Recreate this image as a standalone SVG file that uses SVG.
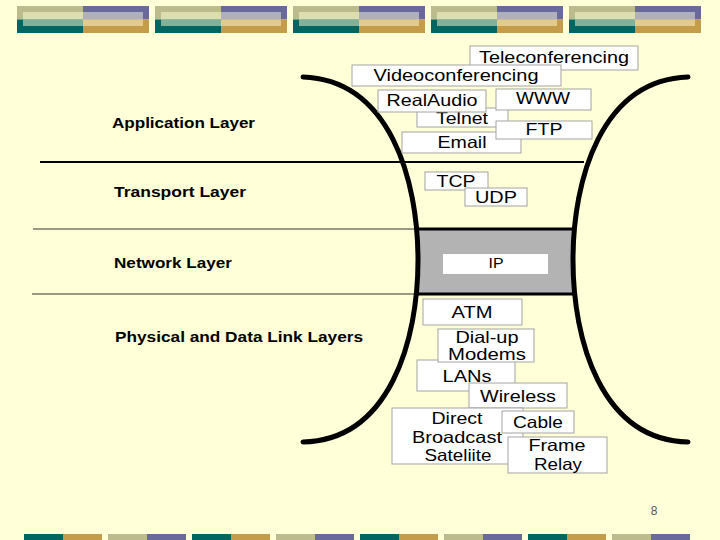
<svg xmlns="http://www.w3.org/2000/svg" width="720" height="540" viewBox="0 0 720 540">
<style>
.box{fill:#fff;stroke:#a3a3a3;stroke-width:1}
.t{font-family:"Liberation Sans",Arial,sans-serif;font-size:16.5px;fill:#000;text-anchor:middle}
.lbl{font-family:"Liberation Sans",Arial,sans-serif;font-size:14px;font-weight:bold;fill:#000}
.curve{fill:none;stroke:#000;stroke-width:5;stroke-linecap:round}
.kh{fill:#bcbb8e}.pu{fill:#6a699c}.te{fill:#006662}.go{fill:#c49c4a}
.khl{fill:#dcddb1}.pul{fill:#b0afbd}.tel{fill:#82b199}.gol{fill:#e1cb8d}
</style>
<defs>
<g id="blk">
<rect class="kh" x="0" y="6" width="66" height="13.5"/>
<rect class="pu" x="66" y="6" width="66" height="13.5"/>
<rect class="te" x="0" y="19.5" width="66" height="13.5"/>
<rect class="go" x="66" y="19.5" width="66" height="13.5"/>
<rect class="khl" x="6" y="12" width="60" height="7.5"/>
<rect class="pul" x="66" y="12" width="60" height="7.5"/>
<rect class="tel" x="6" y="19.5" width="60" height="6.5"/>
<rect class="gol" x="66" y="19.5" width="60" height="6.5"/>
</g>
<g id="pairA"><rect class="te" x="0" y="534" width="39" height="6"/><rect class="go" x="39" y="534" width="39" height="6"/></g>
<g id="pairB"><rect class="kh" x="0" y="534" width="39" height="6"/><rect class="pu" x="39" y="534" width="39" height="6"/></g>
</defs>
<rect width="720" height="540" fill="#ffffd8"/>
<g id="banner-top">
<use href="#blk" x="17"/><use href="#blk" x="155"/><use href="#blk" x="293"/><use href="#blk" x="431"/><use href="#blk" x="569"/>
</g>
<g id="banner-bottom">
<use href="#pairA" x="24"/><use href="#pairB" x="108"/><use href="#pairA" x="192"/><use href="#pairB" x="276"/>
<use href="#pairA" x="360"/><use href="#pairB" x="444"/><use href="#pairA" x="528"/><use href="#pairB" x="612"/>
</g>
<text x="654" y="515" font-family="'Liberation Sans',Arial,sans-serif" font-size="12" fill="#555" text-anchor="middle">8</text>

<g id="labels">
<text class="lbl" x="112" y="128" textLength="143" lengthAdjust="spacingAndGlyphs">Application Layer</text>
<text class="lbl" x="114" y="197" textLength="132" lengthAdjust="spacingAndGlyphs">Transport Layer</text>
<text class="lbl" x="114" y="268" textLength="118" lengthAdjust="spacingAndGlyphs">Network Layer</text>
<text class="lbl" x="115" y="342" textLength="248" lengthAdjust="spacingAndGlyphs">Physical and Data Link Layers</text>
</g>

<g id="ip-layer">
<rect x="417" y="229" width="157" height="65" fill="#b3b3b3"/>
<line x1="416" y1="229" x2="575" y2="229" stroke="#000" stroke-width="3"/>
<line x1="416" y1="294" x2="575" y2="294" stroke="#000" stroke-width="3"/>
</g>

<g id="connectors">
<line x1="40" y1="162" x2="584" y2="162" stroke="#000" stroke-width="2"/>
<line x1="33" y1="229" x2="416" y2="229" stroke="#333" stroke-width="1"/>
<line x1="32" y1="294" x2="416" y2="294" stroke="#333" stroke-width="1"/>
<path class="curve" d="M303,77 C390,80 418,180 418,260 C418,340 390,440 303,442"/>
<path class="curve" d="M688,77 C601,80 573,180 573,260 C573,340 601,440 688,442"/>
</g>

<g id="n-teleconferencing"><rect class="box" x="470" y="46" width="168" height="24"/><text class="t" x="554" y="63" textLength="150" lengthAdjust="spacingAndGlyphs">Teleconferencing</text></g>
<g id="n-videoconferencing"><rect class="box" x="352" y="65" width="209" height="21"/><text class="t" x="456" y="81" textLength="165" lengthAdjust="spacingAndGlyphs">Videoconferencing</text></g>
<g id="n-telnet"><rect class="box" x="417" y="108" width="91" height="19"/><text class="t" x="462" y="123.5" textLength="52" lengthAdjust="spacingAndGlyphs">Telnet</text></g>
<g id="n-realaudio"><rect class="box" x="378" y="90" width="108" height="22"/><text class="t" x="432" y="106" textLength="91" lengthAdjust="spacingAndGlyphs">RealAudio</text></g>
<g id="n-www"><rect class="box" x="496" y="89" width="95" height="21"/><text class="t" x="543" y="104" textLength="54" lengthAdjust="spacingAndGlyphs">WWW</text></g>
<g id="n-email"><rect class="box" x="402" y="132" width="119" height="21"/><text class="t" x="462" y="148" textLength="49" lengthAdjust="spacingAndGlyphs">Email</text></g>
<g id="n-ftp"><rect class="box" x="496" y="121" width="96" height="18"/><text class="t" x="544" y="134.5" textLength="37" lengthAdjust="spacingAndGlyphs">FTP</text></g>

<g id="n-tcp"><rect class="box" x="425" y="172" width="63" height="18"/><text class="t" x="456" y="187" textLength="39" lengthAdjust="spacingAndGlyphs">TCP</text></g>
<g id="n-udp"><rect class="box" x="465" y="188" width="62" height="18"/><text class="t" x="496" y="203" textLength="42" lengthAdjust="spacingAndGlyphs">UDP</text></g>

<g id="n-ip"><rect x="443" y="254" width="105" height="20" fill="#fff"/><text x="496" y="268" font-family="'Liberation Sans',Arial,sans-serif" font-size="15" text-anchor="middle" fill="#000" textLength="15" lengthAdjust="spacingAndGlyphs">IP</text></g>

<g id="n-atm"><rect class="box" x="423" y="299" width="99" height="26"/><text class="t" x="472" y="318" textLength="41" lengthAdjust="spacingAndGlyphs">ATM</text></g>
<g id="n-lans"><rect class="box" x="417" y="360" width="98" height="31"/><text class="t" x="467" y="382" textLength="49" lengthAdjust="spacingAndGlyphs">LANs</text></g>
<g id="n-dialup"><rect class="box" x="438" y="329" width="96" height="33"/><text class="t" x="487" y="343" textLength="63" lengthAdjust="spacingAndGlyphs">Dial-up</text><text class="t" x="487" y="360" textLength="78" lengthAdjust="spacingAndGlyphs">Modems</text></g>
<g id="n-wireless"><rect class="box" x="469" y="383" width="98" height="25"/><text class="t" x="518" y="402" textLength="76" lengthAdjust="spacingAndGlyphs">Wireless</text></g>
<g id="n-dbs"><rect class="box" x="392" y="408" width="131" height="56"/><text class="t" x="457" y="424" textLength="51" lengthAdjust="spacingAndGlyphs">Direct</text><text class="t" x="457" y="443" textLength="90" lengthAdjust="spacingAndGlyphs">Broadcast</text><text class="t" x="458" y="461" textLength="67" lengthAdjust="spacingAndGlyphs">Sateliite</text></g>
<g id="n-cable"><rect class="box" x="502" y="411" width="72" height="22"/><text class="t" x="538" y="428" textLength="50" lengthAdjust="spacingAndGlyphs">Cable</text></g>
<g id="n-framerelay"><rect class="box" x="508" y="437" width="99" height="36"/><text class="t" x="557" y="451" textLength="57" lengthAdjust="spacingAndGlyphs">Frame</text><text class="t" x="558" y="470" textLength="48" lengthAdjust="spacingAndGlyphs">Relay</text></g>
</svg>
